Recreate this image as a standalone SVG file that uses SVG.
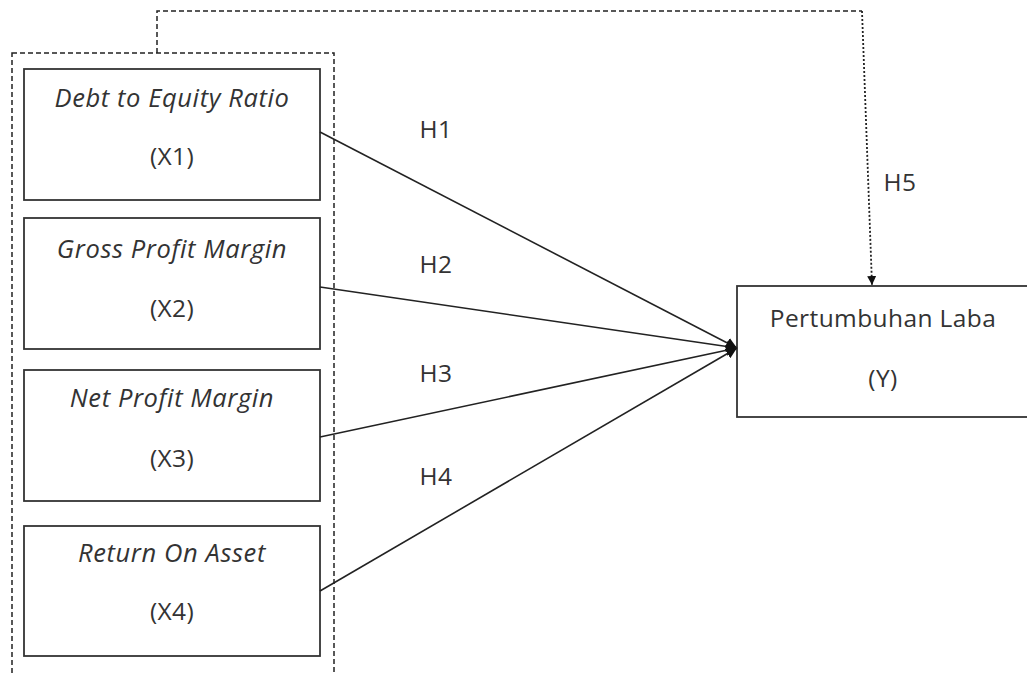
<svg xmlns="http://www.w3.org/2000/svg" width="1027" height="675" viewBox="0 0 1027 675">
<style>
.box{fill:#fff;stroke:#333;stroke-width:1.8}
.t{font-family:"Open Sans","Liberation Sans",sans-serif;font-size:24.5px;letter-spacing:0.4px;fill:#333;text-anchor:middle}
.i{font-style:italic;font-size:25.5px;letter-spacing:0.6px}
.ln{stroke:#222;stroke-width:1.6;fill:none}
.dash{stroke:#222;stroke-width:1.5;fill:none;stroke-dasharray:5 3}
.dot{stroke:#222;stroke-width:1.8;fill:none;stroke-dasharray:2 2}
</style>
<defs>
<marker id="ah" viewBox="0 0 10 10" refX="10" refY="5" markerWidth="9" markerHeight="9" markerUnits="userSpaceOnUse" orient="auto">
<path d="M0,0 L10,5 L0,10 Z" fill="#111"/>
</marker>
<marker id="ah2" viewBox="0 0 10 10" refX="10" refY="5" markerWidth="11" markerHeight="11" markerUnits="userSpaceOnUse" orient="auto">
<path d="M0,0 L10,5 L0,10 Z" fill="#111"/>
</marker>
</defs>
<rect width="1027" height="675" fill="#fff"/>
<g id="group">
<rect x="12" y="53" width="322" height="640" fill="none" class="dash"/>
</g>
<g id="x1">
<rect class="box" x="24" y="69" width="296" height="131"/>
<text class="t i" x="172" y="107">Debt to Equity Ratio</text>
<text class="t" x="172" y="165">(X1)</text>
</g>
<g id="x2">
<rect class="box" x="24" y="218" width="296" height="131"/>
<text class="t i" x="172" y="258">Gross Profit Margin</text>
<text class="t" x="172" y="317">(X2)</text>
</g>
<g id="x3">
<rect class="box" x="24" y="370" width="296" height="131"/>
<text class="t i" x="172" y="407">Net Profit Margin</text>
<text class="t" x="172" y="467">(X3)</text>
</g>
<g id="x4">
<rect class="box" x="24" y="526" width="296" height="130"/>
<text class="t i" x="172" y="562">Return On Asset</text>
<text class="t" x="172" y="620">(X4)</text>
</g>
<g id="y">
<rect class="box" x="737" y="286" width="300" height="131"/>
<text class="t" x="883" y="327">Pertumbuhan Laba</text>
<text class="t" x="883" y="387">(Y)</text>
</g>
<g id="connectors">
<line class="ln" x1="320" y1="132" x2="737" y2="348" marker-end="url(#ah2)"/>
<line class="ln" x1="320" y1="287" x2="737" y2="348" marker-end="url(#ah2)"/>
<line class="ln" x1="320" y1="437" x2="737" y2="348" marker-end="url(#ah2)"/>
<line class="ln" x1="320" y1="591" x2="737" y2="348" marker-end="url(#ah2)"/>
<path class="dash" d="M157,53 V11 H862"/>
<path class="dot" d="M862,11 L872,285" marker-end="url(#ah)"/>
<text class="t" x="436" y="138">H1</text>
<text class="t" x="436" y="273">H2</text>
<text class="t" x="436" y="382">H3</text>
<text class="t" x="436" y="485">H4</text>
<text class="t" x="900" y="191">H5</text>
</g>
</svg>
